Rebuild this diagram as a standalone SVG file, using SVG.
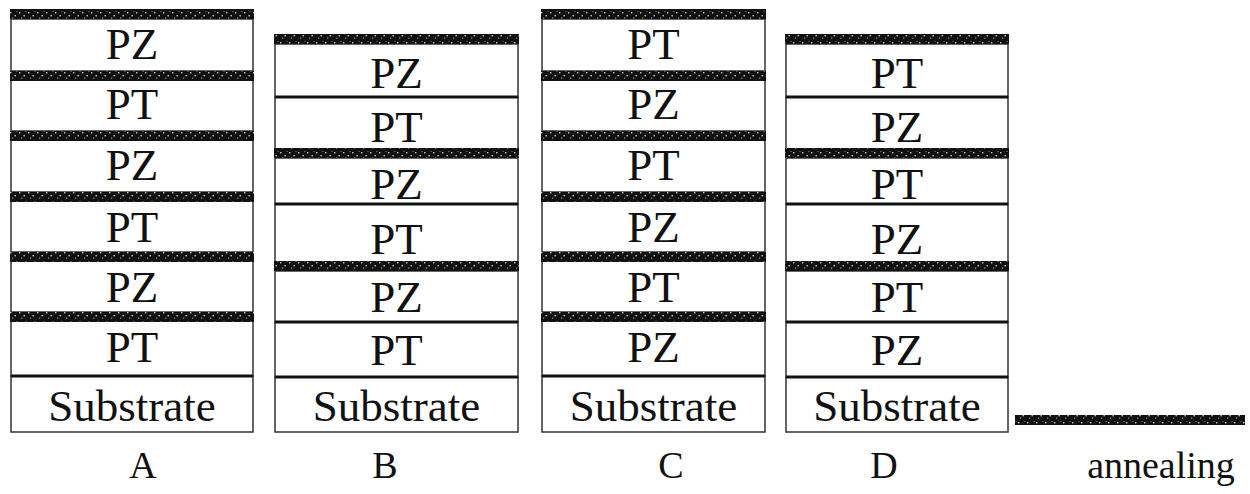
<svg xmlns="http://www.w3.org/2000/svg" width="1250" height="494" viewBox="0 0 1250 494">
<defs>
<pattern id="ann" width="9" height="10" patternUnits="userSpaceOnUse">
<rect width="9" height="10" fill="#111"/>
<rect x="1" y="2" width="1.4" height="1.4" fill="#ccc"/>
<rect x="5.5" y="5" width="1.4" height="1.4" fill="#ccc"/>
<rect x="3" y="7.5" width="1.2" height="1.2" fill="#999"/>
<rect x="7.5" y="1" width="1" height="1" fill="#888"/>
</pattern>
<style>
.layer{fill:#fff;stroke:#333;stroke-width:1.5}
.band{fill:url(#ann)}
.line{stroke:#111;stroke-width:3}
.t{font-family:"Liberation Serif","Times New Roman",serif;font-size:45px;fill:#111;text-anchor:middle}
.lbl{font-family:"Liberation Serif","Times New Roman",serif;font-size:38px;fill:#111;text-anchor:middle}
</style>
</defs>
<rect width="1250" height="494" fill="#fff"/>

<g id="stackA">
<g id="A-PZ1"><rect class="layer" x="11" y="19" width="242" height="52"/><text class="t" x="132" y="59">PZ</text></g>
<g id="A-PT1"><rect class="layer" x="11" y="80" width="242" height="51"/><text class="t" x="132" y="119">PT</text></g>
<g id="A-PZ2"><rect class="layer" x="11" y="140" width="242" height="52"/><text class="t" x="132" y="180">PZ</text></g>
<g id="A-PT2"><rect class="layer" x="11" y="201" width="242" height="51"/><text class="t" x="132" y="242">PT</text></g>
<g id="A-PZ3"><rect class="layer" x="11" y="261" width="242" height="51"/><text class="t" x="132" y="302">PZ</text></g>
<g id="A-PT3"><rect class="layer" x="11" y="321" width="242" height="55"/><text class="t" x="132" y="362">PT</text></g>
<g id="A-Sub"><rect class="layer" x="11" y="376" width="242" height="56"/><text class="t" x="132" y="421">Substrate</text></g>
<rect class="band" x="10" y="9" width="244" height="10"/>
<rect class="band" x="10" y="71" width="244" height="10"/>
<rect class="band" x="10" y="131" width="244" height="10"/>
<rect class="band" x="10" y="192" width="244" height="10"/>
<rect class="band" x="10" y="252" width="244" height="10"/>
<rect class="band" x="10" y="312" width="244" height="10"/>
<line class="line" x1="11" y1="376" x2="253" y2="376"/>
<text class="lbl" x="143" y="478">A</text>
</g>

<g id="stackB">
<g id="B-PZ1"><rect class="layer" x="275" y="44" width="243" height="53"/><text class="t" x="396.5" y="88">PZ</text></g>
<g id="B-PT1"><rect class="layer" x="275" y="97" width="243" height="52"/><text class="t" x="396.5" y="142">PT</text></g>
<g id="B-PZ2"><rect class="layer" x="275" y="158" width="243" height="46"/><text class="t" x="396.5" y="199">PZ</text></g>
<g id="B-PT2"><rect class="layer" x="275" y="204" width="243" height="58"/><text class="t" x="396.5" y="254">PT</text></g>
<g id="B-PZ3"><rect class="layer" x="275" y="271" width="243" height="51"/><text class="t" x="396.5" y="312">PZ</text></g>
<g id="B-PT3"><rect class="layer" x="275" y="322" width="243" height="55"/><text class="t" x="396.5" y="365">PT</text></g>
<g id="B-Sub"><rect class="layer" x="275" y="377" width="243" height="55"/><text class="t" x="396.5" y="421">Substrate</text></g>
<rect class="band" x="274" y="34" width="245" height="10"/>
<rect class="band" x="274" y="148" width="245" height="10"/>
<rect class="band" x="274" y="261" width="245" height="10"/>
<line class="line" x1="275" y1="97" x2="518" y2="97"/>
<line class="line" x1="275" y1="204" x2="518" y2="204"/>
<line class="line" x1="275" y1="322" x2="518" y2="322"/>
<line class="line" x1="275" y1="377" x2="518" y2="377"/>
<text class="lbl" x="385" y="478">B</text>
</g>

<g id="stackC">
<g id="C-PT1"><rect class="layer" x="542" y="19" width="223" height="52"/><text class="t" x="653.5" y="59">PT</text></g>
<g id="C-PZ1"><rect class="layer" x="542" y="80" width="223" height="51"/><text class="t" x="653.5" y="119">PZ</text></g>
<g id="C-PT2"><rect class="layer" x="542" y="140" width="223" height="52"/><text class="t" x="653.5" y="180">PT</text></g>
<g id="C-PZ2"><rect class="layer" x="542" y="201" width="223" height="51"/><text class="t" x="653.5" y="242">PZ</text></g>
<g id="C-PT3"><rect class="layer" x="542" y="261" width="223" height="51"/><text class="t" x="653.5" y="302">PT</text></g>
<g id="C-PZ3"><rect class="layer" x="542" y="321" width="223" height="55"/><text class="t" x="653.5" y="362">PZ</text></g>
<g id="C-Sub"><rect class="layer" x="542" y="376" width="223" height="56"/><text class="t" x="653.5" y="421">Substrate</text></g>
<rect class="band" x="541" y="9" width="225" height="10"/>
<rect class="band" x="541" y="71" width="225" height="10"/>
<rect class="band" x="541" y="131" width="225" height="10"/>
<rect class="band" x="541" y="192" width="225" height="10"/>
<rect class="band" x="541" y="252" width="225" height="10"/>
<rect class="band" x="541" y="312" width="225" height="10"/>
<line class="line" x1="542" y1="376" x2="765" y2="376"/>
<text class="lbl" x="671" y="478">C</text>
</g>

<g id="stackD">
<g id="D-PT1"><rect class="layer" x="786" y="44" width="222" height="53"/><text class="t" x="897" y="88">PT</text></g>
<g id="D-PZ1"><rect class="layer" x="786" y="97" width="222" height="52"/><text class="t" x="897" y="142">PZ</text></g>
<g id="D-PT2"><rect class="layer" x="786" y="158" width="222" height="46"/><text class="t" x="897" y="199">PT</text></g>
<g id="D-PZ2"><rect class="layer" x="786" y="204" width="222" height="58"/><text class="t" x="897" y="254">PZ</text></g>
<g id="D-PT3"><rect class="layer" x="786" y="271" width="222" height="51"/><text class="t" x="897" y="312">PT</text></g>
<g id="D-PZ3"><rect class="layer" x="786" y="322" width="222" height="55"/><text class="t" x="897" y="365">PZ</text></g>
<g id="D-Sub"><rect class="layer" x="786" y="377" width="222" height="55"/><text class="t" x="897" y="421">Substrate</text></g>
<rect class="band" x="785" y="34" width="224" height="10"/>
<rect class="band" x="785" y="148" width="224" height="10"/>
<rect class="band" x="785" y="261" width="224" height="10"/>
<line class="line" x1="786" y1="97" x2="1008" y2="97"/>
<line class="line" x1="786" y1="204" x2="1008" y2="204"/>
<line class="line" x1="786" y1="322" x2="1008" y2="322"/>
<line class="line" x1="786" y1="377" x2="1008" y2="377"/>
<text class="lbl" x="884" y="478">D</text>
</g>

<g id="legend">
<rect class="band" x="1015" y="415" width="230" height="10"/>
<text class="lbl" x="1161" y="478">annealing</text>
</g>
</svg>
